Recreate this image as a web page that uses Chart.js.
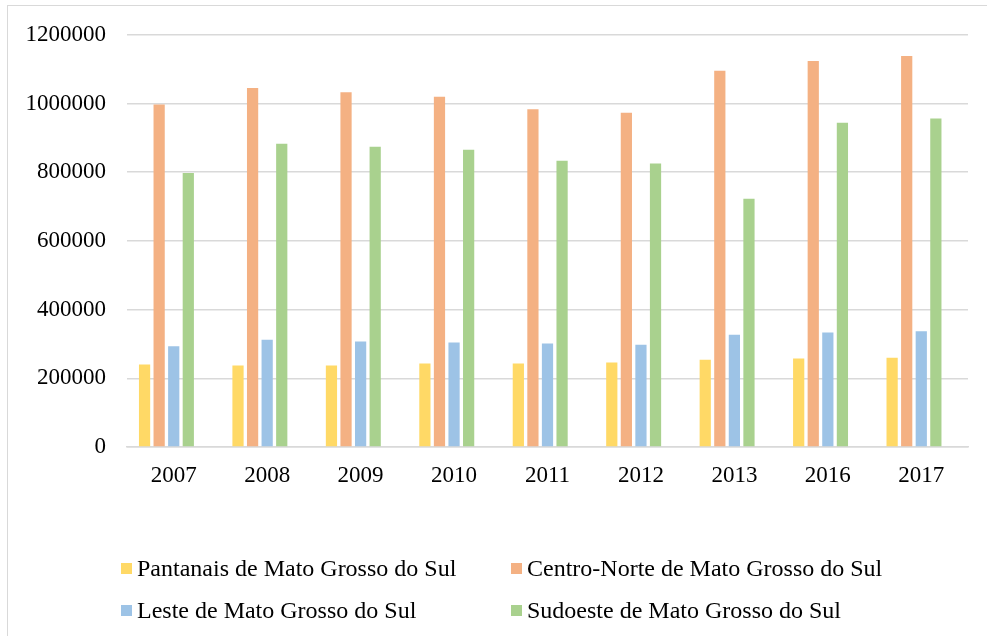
<!DOCTYPE html>
<html lang="pt">
<head>
<meta charset="utf-8">
<title>Mato Grosso do Sul – por mesorregião</title>
<script src="https://cdn.jsdelivr.net/npm/chart.js@4/dist/chart.umd.min.js"></script>
<style>
  html, body { margin: 0; padding: 0; background: #fff; }
  #wrap { position: relative; width: 987px; height: 636px; overflow: hidden; background: #fff; }
  #frame { position: absolute; left: 7px; top: 5px; width: 1200px; height: 800px;
           border-top: 1.5px solid #D9D9D9; border-left: 1.5px solid #D9D9D9; box-sizing: border-box; }
  #chart { position: absolute; left: 0; top: 0; }
  .lg-item { position: absolute; font-family: 'Liberation Serif', 'Times New Roman', serif;
             font-size: 24px; line-height: 28px; color: #000; white-space: nowrap; }
  .lg-box { position: absolute; width: 11px; height: 11px; }
</style>
</head>
<body>
<div id="wrap">
  <div id="frame"></div>
  <canvas id="chart" width="987" height="636"></canvas>
  <div id="legend"></div>
</div>
<script>
// Years on the category axis
const years = ['2007', '2008', '2009', '2010', '2011', '2012', '2013', '2016', '2017'];

// Series names
const seriesNames = [
  'Pantanais de Mato Grosso do Sul',
  'Centro-Norte de Mato Grosso do Sul',
  'Leste de Mato Grosso do Sul',
  'Sudoeste de Mato Grosso do Sul'
];

// Values per mesoregion
const pantanais   = [240000, 237000, 237000, 243000, 243000, 246000, 254000, 258000, 260000];
const centroNorte = [997000, 1045000, 1033000, 1020000, 983000, 973000, 1095000, 1124000, 1138000];
const leste       = [293000, 312000, 307000, 304000, 301000, 298000, 327000, 333000, 337000];
const sudoeste    = [798000, 883000, 874000, 865000, 833000, 825000, 723000, 944000, 956000];

// Value axis ticks
const yTicks = [0, 200000, 400000, 600000, 800000, 1000000, 1200000];

const seriesValues = [pantanais, centroNorte, leste, sudoeste];
const seriesColors = ['#FFD966', '#F4B183', '#9DC3E6', '#A9D18E'];

const datasets = seriesNames.map((name, i) => ({
  label: name,
  data: seriesValues[i],
  backgroundColor: seriesColors[i],
  borderWidth: 0
}));
// empty trailing series slot (keeps each group shifted left within its category)
datasets.push({ label: '', data: years.map(() => null), backgroundColor: 'rgba(0,0,0,0)' });

const serif = "'Liberation Serif', 'Times New Roman', serif";

new Chart(document.getElementById('chart'), {
  type: 'bar',
  data: { labels: years, datasets },
  options: {
    responsive: false,
    animation: false,
    devicePixelRatio: 1,
    datasets: { bar: { categoryPercentage: 0.78, barPercentage: 0.77 } },
    layout: { padding: { left: 0, right: 19, top: 34, bottom: 139 } },
    plugins: { legend: { display: false }, tooltip: { enabled: false }, title: { display: false } },
    scales: {
      x: {
        grid: { display: false, drawTicks: false },
        border: { display: true, color: '#D9D9D9', width: 1.5 },
        ticks: { color: '#000', font: { family: serif, size: 23 }, padding: 15, maxRotation: 0 },
        afterFit: s => { s.height = 50; }
      },
      y: {
        min: 0,
        max: 1200000,
        afterBuildTicks: s => { s.ticks = yTicks.map(v => ({ value: v })); },
        grid: { color: '#D9D9D9', lineWidth: 1.5, drawTicks: false },
        border: { display: false },
        ticks: { color: '#000', font: { family: serif, size: 23 }, padding: 21,
                 callback: v => String(v) },
        afterFit: s => { s.width = 127; }
      }
    }
  }
});

// Two-column legend below the plot
const legend = document.getElementById('legend');
const colX = [121, 511];
const rowY = [563, 605];
seriesNames.forEach((name, i) => {
  const col = i % 2, row = Math.floor(i / 2);
  const box = document.createElement('div');
  box.className = 'lg-box';
  box.style.left = colX[col] + 'px';
  box.style.top = rowY[row] + 'px';
  box.style.background = seriesColors[i];
  legend.appendChild(box);
  const txt = document.createElement('div');
  txt.className = 'lg-item';
  txt.style.left = (colX[col] + 16) + 'px';
  txt.style.top = (rowY[row] - 9) + 'px';
  txt.textContent = name;
  legend.appendChild(txt);
});
</script>
</body>
</html>
